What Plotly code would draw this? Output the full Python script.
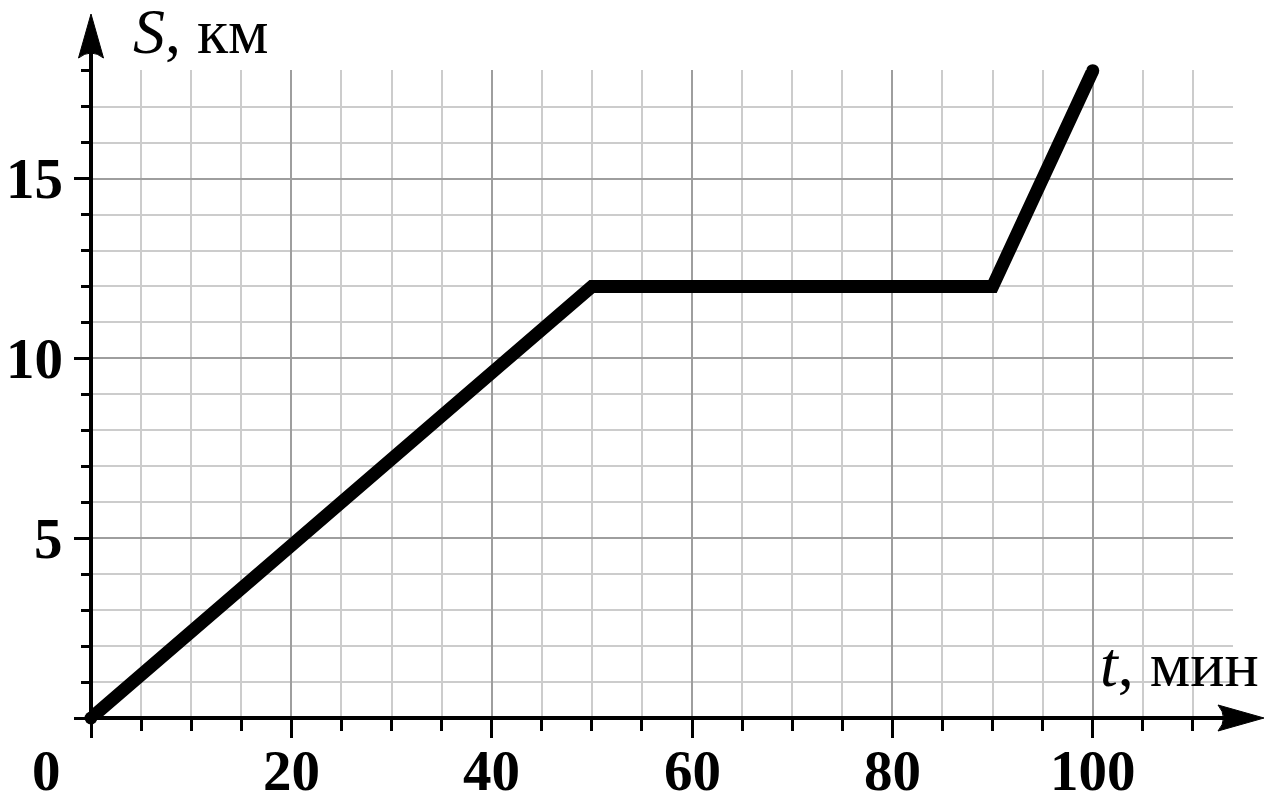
import plotly.graph_objects as go

# ---- data ----
t_min = [0, 50, 90, 100]
s_km = [0, 12, 12, 18]
x_tick_vals = [20, 40, 60, 80, 100]
x_tick_text = ["20", "40", "60", "80", "100"]
y_tick_vals = [5, 10, 15]
y_tick_text = ["5", "10", "15"]
x_label = "<i>t</i>, мин"
y_label = "<i>S</i>, км"

# the page body has an 8px margin; the figure is shifted by it
OFF = 8
W, H = 1280 - OFF, 803 - OFF
L, R, T, B = 91 - OFF, 1233 - OFF, 70 - OFF, 718 - OFF  # plot area in figure pixels
XMAX, YMAX = 114, 18

def px(p):
    # p: page pixel x
    return (p - OFF - L) / (R - L)

def py(p):
    # p: page pixel y
    return (B - (p - OFF)) / (B - T)

FONT = "Liberation Serif"
NUM_SIZE = 57
LAB_SIZE = 64

fig = go.Figure()
fig.add_trace(go.Scatter(
    x=t_min, y=s_km, mode="lines",
    line=dict(color="black", width=13),
    hoverinfo="skip", showlegend=False,
))
fig.add_trace(go.Scatter(
    x=[t_min[0], t_min[-1]], y=[s_km[0], s_km[-1]], mode="markers",
    marker=dict(color="black", size=13, line=dict(width=0)),
    cliponaxis=False, hoverinfo="skip", showlegend=False,
))

shapes = []
# white box behind the t label
shapes.append(dict(type="rect", xref="paper", yref="paper", layer="between",
                   x0=px(1050), x1=px(1285), y0=py(702), y1=py(635),
                   fillcolor="white", line=dict(width=0)))
# axis lines
shapes.append(dict(type="line", xref="paper", yref="paper", layer="above",
                   x0=px(89), x1=px(1235), y0=py(718), y1=py(718),
                   line=dict(color="black", width=4)))
shapes.append(dict(type="line", xref="paper", yref="paper", layer="above",
                   x0=px(91), x1=px(91), y0=py(720), y1=py(45),
                   line=dict(color="black", width=4)))
# arrowheads
ya = f"M {px(91)},{py(14)} L {px(103.5)},{py(58)} Q {px(91)},{py(48)} {px(78.5)},{py(58)} Z"
xa = f"M {px(1264)},{py(718)} L {px(1218)},{py(705)} Q {px(1229)},{py(718)} {px(1218)},{py(731)} Z"
for d in (ya, xa):
    shapes.append(dict(type="path", xref="paper", yref="paper", layer="above",
                       path=d, fillcolor="black", line=dict(color="black", width=1)))

numfont = dict(family=FONT, size=NUM_SIZE, color="black", weight="bold")
labfont = dict(family=FONT, size=LAB_SIZE, color="black")

annotations = []
for v, txt in zip(x_tick_vals, x_tick_text):
    annotations.append(dict(x=v, y=py(770), xref="x", yref="paper", text=txt,
                            showarrow=False, xanchor="center", yanchor="middle",
                            font=numfont, borderpad=0))
annotations.append(dict(x=px(46), y=py(770), xref="paper", yref="paper", text="0",
                        showarrow=False, xanchor="center", yanchor="middle",
                        font=numfont, borderpad=0))
for v, txt in zip(y_tick_vals, y_tick_text):
    annotations.append(dict(x=px(64), y=v, xref="paper", yref="y", text=txt,
                            showarrow=False, xanchor="right", yanchor="middle",
                            font=numfont, borderpad=0))
annotations.append(dict(x=px(132), y=py(31), xref="paper", yref="paper", text=y_label,
                        showarrow=False, xanchor="left", yanchor="middle",
                        font=labfont, borderpad=0))
annotations.append(dict(x=px(1099), y=py(664), xref="paper", yref="paper", text=x_label,
                        showarrow=False, xanchor="left", yanchor="middle",
                        font=labfont, borderpad=0))

MAJOR_GRID = "#9e9e9e"
MINOR_GRID = "#cccccc"

fig.update_layout(
    width=W, height=H,
    margin=dict(l=L, r=W - R, t=T, b=H - B, pad=0),
    paper_bgcolor="white", plot_bgcolor="white",
    shapes=shapes, annotations=annotations,
    xaxis=dict(range=[0, XMAX], dtick=20, tick0=0, showgrid=True, gridcolor=MAJOR_GRID,
               gridwidth=2, zeroline=False, showline=False, showticklabels=False,
               ticks="outside", ticklen=19, tickwidth=3, tickcolor="black",
               minor=dict(dtick=5, tick0=0, showgrid=True, gridcolor=MINOR_GRID, gridwidth=1.5,
                          ticks="outside", ticklen=12, tickwidth=3, tickcolor="black"),
               fixedrange=True),
    yaxis=dict(range=[0, YMAX + 0.02], dtick=5, tick0=0, showgrid=True, gridcolor=MAJOR_GRID,
               gridwidth=2, zeroline=False, showline=False, showticklabels=False,
               ticks="outside", ticklen=16, tickwidth=3, tickcolor="black",
               minor=dict(dtick=1, tick0=0, showgrid=True, gridcolor=MINOR_GRID, gridwidth=1.5,
                          ticks="outside", ticklen=9, tickwidth=3, tickcolor="black"),
               fixedrange=True),
)

fig.write_html("out.html")
